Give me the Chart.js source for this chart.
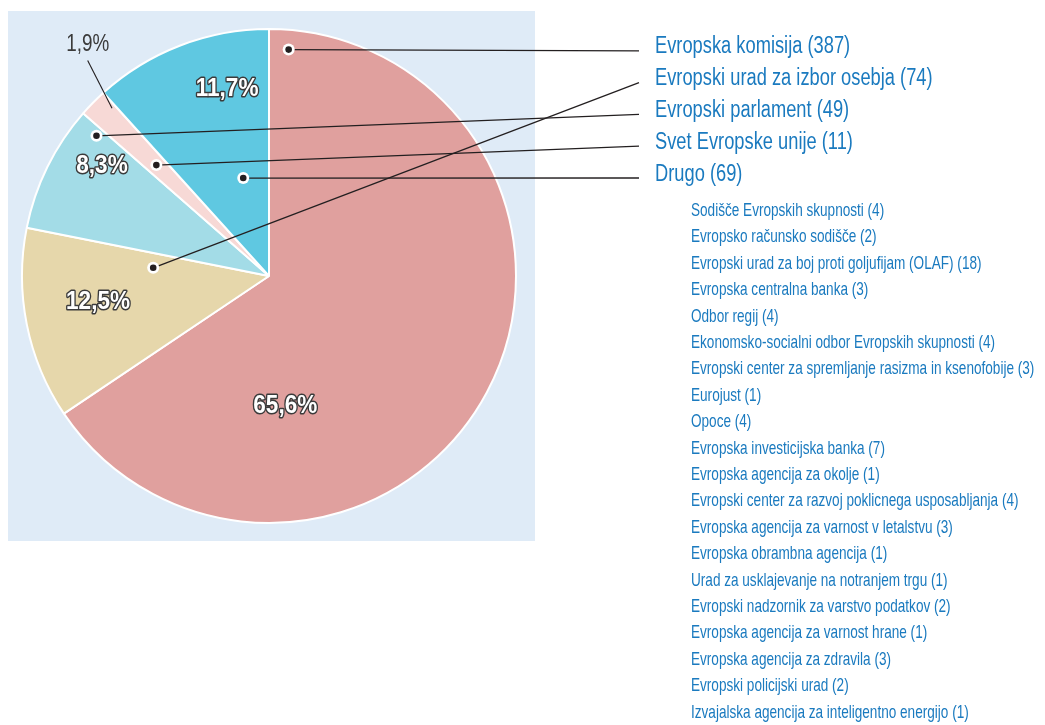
<!DOCTYPE html>
<html><head><meta charset="utf-8">
<script src="https://cdn.jsdelivr.net/npm/chart.js@4"></script>
<style>html,body{margin:0;padding:0;background:#fff}#c{display:block}</style>
</head><body>
<canvas id="c" width="1045" height="725"></canvas>
<script>
// ---- data ----
const categories = ['Evropska komisija','Evropski urad za izbor osebja','Evropski parlament','Svet Evropske unije','Drugo'];
const values = [387, 74, 49, 11, 69];
const otherCategories = [
  'Sodišče Evropskih skupnosti','Evropsko računsko sodišče','Evropski urad za boj proti goljufijam (OLAF)',
  'Evropska centralna banka','Odbor regij','Ekonomsko-socialni odbor Evropskih skupnosti',
  'Evropski center za spremljanje rasizma in ksenofobije','Eurojust','Opoce','Evropska investicijska banka',
  'Evropska agencija za okolje','Evropski center za razvoj poklicnega usposabljanja',
  'Evropska agencija za varnost v letalstvu','Evropska obrambna agencija','Urad za usklajevanje na notranjem trgu',
  'Evropski nadzornik za varstvo podatkov','Evropska agencija za varnost hrane','Evropska agencija za zdravila',
  'Evropski policijski urad','Izvajalska agencija za inteligentno energijo'];
const otherValues = [4,2,18,3,4,4,3,1,4,7,1,4,3,1,1,2,1,3,2,1];

// ---- style ----
const colors = ['#e0a09e','#e6d7ab','#a3dce7','#f7d9d6','#5fc8e1'];
const BLUE = '#1a7abf';
// dot anchor per slice: [fraction of slice angle, fraction of radius]
const dotAnchor = [[0.021,0.92],[0.84,0.47],[0.93,0.9],[0.5,0.64],[0.65,0.41]];
// percentage label anchor per slice
const pctAnchor = [[0.732,0.53],[0.56,0.70],[0.74,0.81],[1.6,1.19],[0.70,0.776]];
const pctInside = [true,true,true,false,true];

function hasFont(name){
  const c=document.createElement('canvas').getContext('2d');
  const s='abcdefghijklmnopqrstuvwxyz0123456789';
  c.font='40px monospace'; const a=c.measureText(s).width;
  c.font='40px "'+name+'", monospace'; return c.measureText(s).width!==a;
}
const NARROW = hasFont('Liberation Sans Narrow');
const FAMILY = NARROW ? '"Liberation Sans Narrow", "Liberation Sans", sans-serif' : '"Liberation Sans", sans-serif';
const SQ = NARROW ? 1 : 0.82;

function txt(ctx, s, x, y, o){
  ctx.save();
  ctx.font = (o.weight||'normal')+' '+o.size+'px '+FAMILY;
  ctx.textBaseline = o.baseline||'alphabetic';
  ctx.translate(x,y);
  ctx.scale((o.sx||1)*SQ,1);
  let dx = 0;
  if (o.align==='center') dx = -ctx.measureText(s).width/2;
  if (o.stroke){ ctx.lineJoin='round'; ctx.lineWidth=o.lw||3; ctx.strokeStyle=o.stroke; ctx.strokeText(s,dx,0); }
  ctx.fillStyle=o.fill; ctx.fillText(s,dx,0);
  ctx.restore();
}

const total = values.reduce((a,b)=>a+b,0);
const pct = v => (v/total*100).toFixed(1).replace('.',',')+'%';

function polar(arc, f, rf){
  const a = arc.startAngle + f*(arc.endAngle-arc.startAngle);
  const r = arc.outerRadius*rf;
  return [arc.x + r*Math.cos(a), arc.y + r*Math.sin(a)];
}

const bgPlugin = {
  id:'bg',
  beforeDraw(chart){
    const {ctx, chartArea:a} = chart;
    ctx.save(); ctx.fillStyle='#dfebf7';
    ctx.fillRect(a.left-13, a.top-17, (a.right+18)-(a.left-13), (a.bottom+17)-(a.top-17));
    ctx.restore();
  }
};

const annot = {
  id:'annot',
  afterDatasetsDraw(chart){
    const ctx = chart.ctx;
    const arcs = chart.getDatasetMeta(0).data;
    const lx = 655, lineEnd = 639, base0 = 53.3, step = 31.8;
    // leader lines
    ctx.save(); ctx.strokeStyle='#231f20'; ctx.lineWidth=1.3;
    arcs.forEach((arc,i)=>{
      const [x,y] = polar(arc, dotAnchor[i][0], dotAnchor[i][1]);
      ctx.beginPath(); ctx.moveTo(x,y); ctx.lineTo(lineEnd, base0+step*i-2.5); ctx.stroke();
    });
    // small leader for outside label
    arcs.forEach((arc,i)=>{
      if (pctInside[i]) return;
      const [x1,y1] = polar(arc, 1.3, 1.14);
      const [x2,y2] = polar(arc, 0.85, 0.93);
      ctx.lineWidth=1.1; ctx.beginPath(); ctx.moveTo(x1,y1); ctx.lineTo(x2,y2); ctx.stroke();
    });
    ctx.restore();
    // dots
    arcs.forEach((arc,i)=>{
      const [x,y] = polar(arc, dotAnchor[i][0], dotAnchor[i][1]);
      ctx.save();
      ctx.fillStyle='#ffffff'; ctx.beginPath(); ctx.arc(x,y,6,0,Math.PI*2); ctx.fill();
      ctx.fillStyle='#231f20'; ctx.beginPath(); ctx.arc(x,y,3.3,0,Math.PI*2); ctx.fill();
      ctx.restore();
    });
    // percentage labels
    arcs.forEach((arc,i)=>{
      const [x,y] = polar(arc, pctAnchor[i][0], pctAnchor[i][1]);
      if (pctInside[i]) txt(ctx, pct(values[i]), x, y, {size:25, weight:'bold', sx:1.1, align:'center', baseline:'middle', fill:'#ffffff', stroke:'#3b3b3b', lw:3});
      else txt(ctx, pct(values[i]), x, y, {size:23, sx:1.0, align:'center', baseline:'middle', fill:'#3a3a3a'});
    });
    // main legend
    categories.forEach((c,i)=>{
      txt(ctx, c+' ('+values[i]+')', lx, base0+step*i, {size:23, sx:0.97, fill:BLUE});
    });
    // sub legend
    otherCategories.forEach((c,i)=>{
      txt(ctx, c+' ('+otherValues[i]+')', 691, 216+26.4*i, {size:18.5, sx:0.895, fill:BLUE});
    });
  }
};

new Chart(document.getElementById('c'), {
  type:'pie',
  data:{ labels:categories, datasets:[{ data:values, backgroundColor:colors, borderColor:'#ffffff', borderWidth:2 }]},
  options:{
    responsive:false, animation:false, devicePixelRatio:1,
    layout:{ padding:{ left:21, top:28, right:1045-517, bottom:725-524 } },
    plugins:{ legend:{display:false}, tooltip:{enabled:false} }
  },
  plugins:[bgPlugin, annot]
});
</script>
</body></html>
